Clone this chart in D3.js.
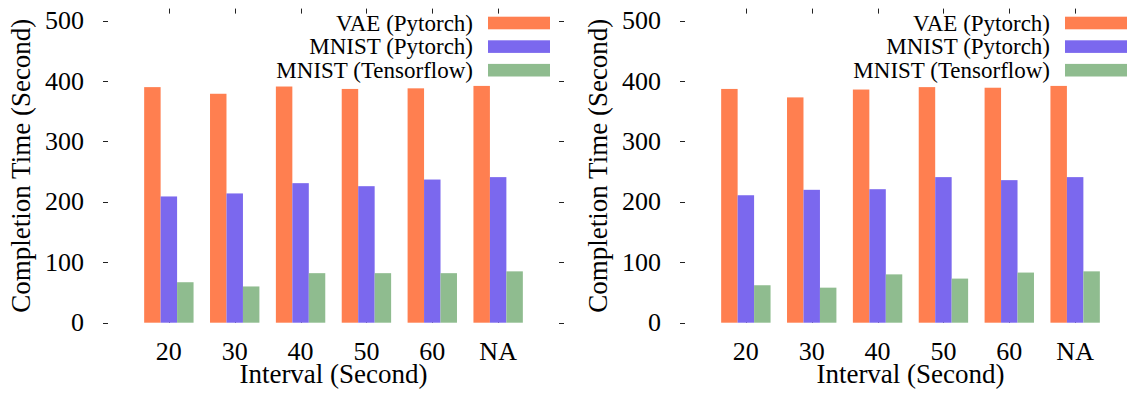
<!DOCTYPE html>
<html>
<head>
<meta charset="utf-8">
<script src="https://cdn.jsdelivr.net/npm/d3@7"></script>
<style>
  html, body { margin: 0; padding: 0; background: #fff; }
  svg { display: block; }
  text { font-family: "Liberation Serif", "Times New Roman", serif; fill: #000; }
</style>
</head>
<body>
<svg id="chart" width="1135" height="393"></svg>
<script>
// Interval categories (seconds; NA = no interval)
const intervals = ["20", "30", "40", "50", "60", "NA"];
const seriesNames = ["VAE (Pytorch)", "MNIST (Pytorch)", "MNIST (Tensorflow)"];
const seriesColors = ["#FF7F50", "#7B68EE", "#8FBC8F"];
const yTicks = [0, 100, 200, 300, 400, 500];

// Completion time (seconds), left panel
const leftVae        = [390, 379, 391, 387, 388, 392];
const leftMnistTorch = [209, 214, 231, 226, 237, 241];
const leftMnistTf    = [67, 60, 82, 82, 82, 85];

// Completion time (seconds), right panel
const rightVae        = [387, 373, 386, 390, 389, 392];
const rightMnistTorch = [211, 220, 221, 241, 236, 241];
const rightMnistTf    = [62, 58, 80, 73, 83, 85];

const panels = [
  { offset: 0,     series: [leftVae, leftMnistTorch, leftMnistTf] },
  { offset: 577,   series: [rightVae, rightMnistTorch, rightMnistTf] }
];

const svg = d3.select("#chart");

// Plot frame inside each panel
const plotLeft = 103, plotRight = 564, plotTop = 8.6, plotBottom = 322.7;
const barWidthUnits = 0.25;

function drawPanel(panel) {
  const g = svg.append("g").attr("transform", `translate(${panel.offset},0)`);

  const x = d3.scaleLinear().domain([-1, intervals.length]).range([plotLeft, plotRight]);
  const y = d3.scaleLinear().domain([0, 520]).range([plotBottom, plotTop]);
  const bw = x(barWidthUnits) - x(0);

  // tick marks (drawn inward on all four sides, no border line)
  const tickLen = 5;
  const ticks = g.append("g").attr("stroke", "#222").attr("stroke-width", 1);
  yTicks.forEach(v => {
    ticks.append("line").attr("x1", plotLeft).attr("x2", plotLeft + tickLen)
      .attr("y1", Math.round(y(v)) + 0.5).attr("y2", Math.round(y(v)) + 0.5);
    ticks.append("line").attr("x1", plotRight - tickLen).attr("x2", plotRight)
      .attr("y1", Math.round(y(v)) + 0.5).attr("y2", Math.round(y(v)) + 0.5);
  });
  intervals.forEach((c, i) => {
    const xc = Math.round(x(i)) + 0.5;
    ticks.append("line").attr("x1", xc).attr("x2", xc)
      .attr("y1", plotTop).attr("y2", plotTop + tickLen);
    ticks.append("line").attr("x1", xc).attr("x2", xc)
      .attr("y1", plotBottom).attr("y2", plotBottom - tickLen);
  });

  // bars
  panel.series.forEach((vals, s) => {
    g.append("g").selectAll("rect").data(vals).join("rect")
      .attr("x", (d, i) => x(i + (s - 1.5) * barWidthUnits))
      .attr("width", bw)
      .attr("y", d => y(d))
      .attr("height", d => y(0) - y(d))
      .attr("fill", seriesColors[s]);
  });

  // y tick labels
  g.append("g").selectAll("text").data(yTicks).join("text")
    .attr("x", 84).attr("y", d => y(d) + 8.5)
    .attr("text-anchor", "end")
    .attr("font-size", 26)
    .text(d => d);

  // x tick labels
  g.append("g").selectAll("text").data(intervals).join("text")
    .attr("x", (d, i) => x(i)).attr("y", 360)
    .attr("text-anchor", "middle")
    .attr("font-size", 26)
    .text(d => d);

  // axis titles
  g.append("text")
    .attr("x", (plotLeft + plotRight) / 2).attr("y", 383)
    .attr("text-anchor", "middle").attr("font-size", 27)
    .text("Interval (Second)");
  g.append("text")
    .attr("transform", `translate(30,${(plotTop + plotBottom) / 2}) rotate(-90)`)
    .attr("text-anchor", "middle").attr("font-size", 27)
    .text("Completion Time (Second)");

  // legend
  const legend = g.append("g");
  seriesNames.forEach((name, s) => {
    const cy = 23 + s * 23.6;
    legend.append("text")
      .attr("x", 473).attr("y", cy + 7.5)
      .attr("text-anchor", "end").attr("font-size", 23)
      .text(name);
    legend.append("rect")
      .attr("x", 488).attr("y", cy - 6.3)
      .attr("width", 62).attr("height", 12.6)
      .attr("fill", seriesColors[s]);
  });
}

panels.forEach(drawPanel);
</script>
</body>
</html>
